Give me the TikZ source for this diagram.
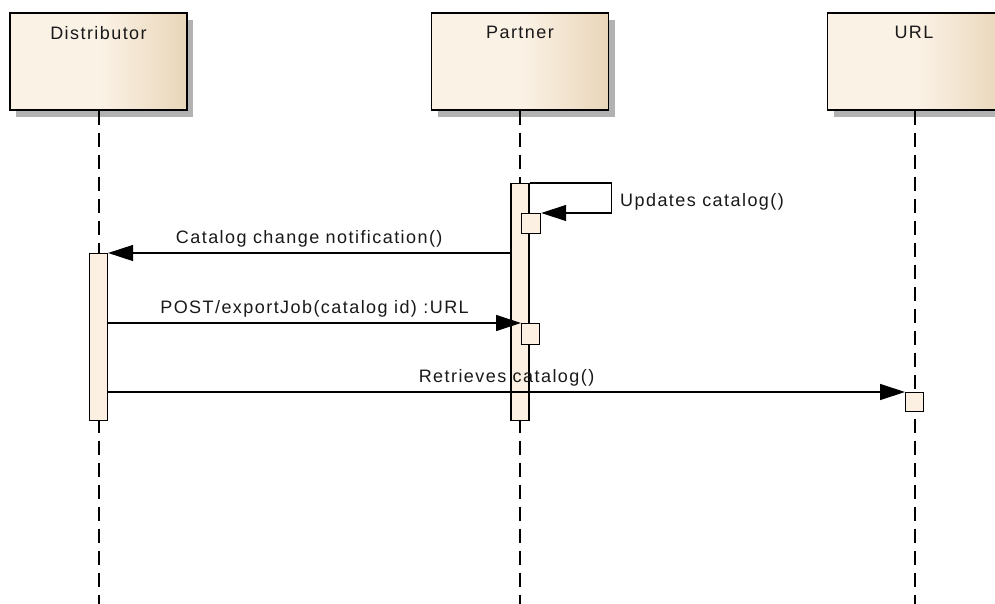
\documentclass[tikz,border=0pt]{standalone}
\usepackage{fontspec}
\setmainfont{Liberation Sans}[LetterSpace=8]
\usetikzlibrary{positioning, arrows.meta, shadows}
\definecolor{headlight}{HTML}{FBF2E6}
\definecolor{headdark}{HTML}{E9D6B9}
\definecolor{actfill}{HTML}{FBF0E2}
\pgfdeclarehorizontalshading{headshade}{100bp}{color(0bp)=(headlight); color(25bp)=(headlight); color(50bp)=(headlight); color(75bp)=(headdark); color(100bp)=(headdark)}
\tikzstyle{every node}=[font=\fontsize{18}{21}\selectfont, text=black!90]
\tikzstyle{Head}=[draw, line width=1.3pt, shade, shading=headshade, minimum width=177pt, minimum height=97pt, inner sep=0pt, drop shadow={shadow xshift=6pt, shadow yshift=-7pt, fill=black!30, opacity=1}]
\tikzstyle{Name}=[inner sep=0pt]
\tikzstyle{Life}=[line width=1.3pt, dash pattern=on 14pt off 8pt]
\tikzstyle{Act}=[draw, fill=actfill, line width=1.2pt, inner sep=0pt, minimum width=18pt]
\tikzstyle{Msg}=[line width=1.2pt, -{Triangle[length=25pt, width=16pt]}]
\tikzstyle{Lbl}=[above=5pt, inner sep=0pt]

\begin{document}
\begin{tikzpicture}[x=1pt, y=-1pt]
		\useasboundingbox (0,0) rectangle (995,604);
		\clip (0,0) rectangle (995,604);
		\fill[white] (0,0) rectangle (995,604);
		\node[Head] (dist) at (98.5,61.5) {};
		\node[Head] (partner) at (520,61.5) {};
		\node[Head] (url) at (916,61.5) {};
		\node[Name, below=14pt of dist.north] (distName) {Distributor};
		\node[Name, below=14pt of partner.north] (partnerName) {Partner};
		\node[Name, below=14pt of url.north, xshift=-2pt] (urlName) {URL};
		\coordinate (distEnd) at (99,604);
		\coordinate (partnerEnd) at (520,604);
		\coordinate (urlEnd) at (915,604);
		\draw[Life] (dist.south -| distEnd) -- (distEnd);
		\draw[Life] (partner.south) -- (partnerEnd);
		\draw[Life] (url.south -| urlEnd) -- (urlEnd);
		\node[Act, minimum height=237pt, anchor=north] (partnerAct) at (520,183) {};
		\node[Act, minimum height=167pt, anchor=north] (distAct) at (98.5,253) {};
		\node[Act, minimum width=19pt, minimum height=20pt, anchor=north west] (selfBox) at (521,213) {};
		\node[Act, minimum height=21pt, anchor=north west] (postBox) at (521,323) {};
		\node[Act, minimum height=19pt, anchor=north west] (urlBox) at (905,392) {};
		\draw[Msg] (partnerAct.north east) -- ++(82,0) |- (selfBox.north east);
		\node[anchor=base west, inner sep=0pt] (selfLbl) at (620,207) {Updates catalog()};
		\draw[Msg] (partnerAct.west |- distAct.north) -- node[Lbl] (notifLbl) {Catalog change notification()} (distAct.north east);
		\draw[Msg] (distAct.east |- postBox.north) -- node[Lbl] (postLbl) {POST/exportJob(catalog id) :URL} (postBox.north west);
		\draw[Msg] (distAct.east |- urlBox.north) -- node[Lbl] (getLbl) {Retrieves catalog()} (urlBox.north west);
		\end{tikzpicture}
\end{document}
